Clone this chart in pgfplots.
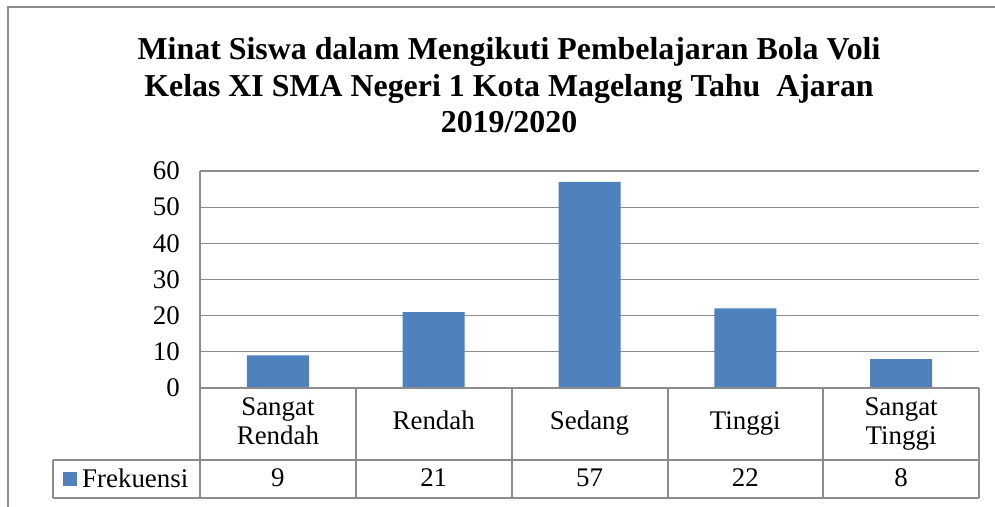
\documentclass[border=0pt]{standalone}
\usepackage{pgfplots}
\pgfplotsset{compat=1.18}
\usepackage{pgfplotstable}
\usepackage{fontspec}
\setmainfont{Liberation Serif}
\definecolor{barblue}{HTML}{4F81BD}
\definecolor{gridgray}{HTML}{8C8C8C}
\pgfplotstableread{
x val
0 9
1 21
2 57
3 22
4 8
}\datatable
\begin{document}
\begin{tikzpicture}[x=1bp,y=1bp]
\useasboundingbox (0,0) rectangle (995,507);
\fill[white] (0,0) rectangle (995,507);
\draw[gridgray, line width=1.3bp] (8,0) -- (8,500) -- (995,500);
\node[font=\fontsize{32}{37}\selectfont\bfseries, anchor=base] at (509,447) {Minat Siswa dalam Mengikuti Pembelajaran Bola Voli};
\node[font=\fontsize{32}{37}\selectfont\bfseries, anchor=base] at (509,410) {Kelas XI SMA Negeri 1 Kota Magelang Tahu~ Ajaran};
\node[font=\fontsize{32}{37}\selectfont\bfseries, anchor=base] at (509,374) {2019/2020};
\begin{axis}[
  at={(200bp,119bp)}, anchor=south west,
  scale only axis, width=779bp, height=217bp,
  xmin=-0.5, xmax=4.5, ymin=0, ymax=60,
  ytick={0,10,...,60}, xtick={0,...,4},
  xticklabels={{Sangat\strut\\Rendah\strut},Rendah\strut,Sedang\strut,Tinggi\strut,{Sangat\strut\\Tinggi\strut}},
  major tick length=0,
  ymajorgrids, grid style={gridgray, line width=1.3bp},
  axis line style={draw=none},
  clip=false,
  /pgf/number format/assume math mode=true,
  yticklabel style={font=\fontsize{27}{30}\selectfont, anchor=east, inner sep=0pt, xshift=-20bp},
  xticklabel style={font=\fontsize{27}{29}\selectfont, anchor=center, align=center, inner sep=0pt, yshift=-36bp},
]
\addplot[ybar, bar width=62bp, fill=barblue, draw=none] table[x=x, y=val] {\datatable};
\addplot[draw=none, mark=none, nodes near coords, point meta=explicit,
  nodes near coords style={font=\fontsize{27}{30}\selectfont, anchor=center, inner sep=0pt}]
  table[x=x, y expr=-24.9, meta=val] {\datatable};
\end{axis}
\begin{scope}[gridgray, line width=1.3bp]
\draw (200,336) -- (200,9);
\foreach \xx in {356,512,668,823,979} {\draw (\xx,119) -- (\xx,9);}
\draw (200,119) -- (979,119);
\draw (53,47) -- (979,47);
\draw (53,9) -- (979,9);
\draw (53,47) -- (53,9);
\end{scope}
\fill[barblue] (63,21) rectangle (77,35);
\node[font=\fontsize{27}{30}\selectfont, anchor=base west, inner sep=0pt] at (82,19) {Frekuensi};
\end{tikzpicture}
\end{document}
